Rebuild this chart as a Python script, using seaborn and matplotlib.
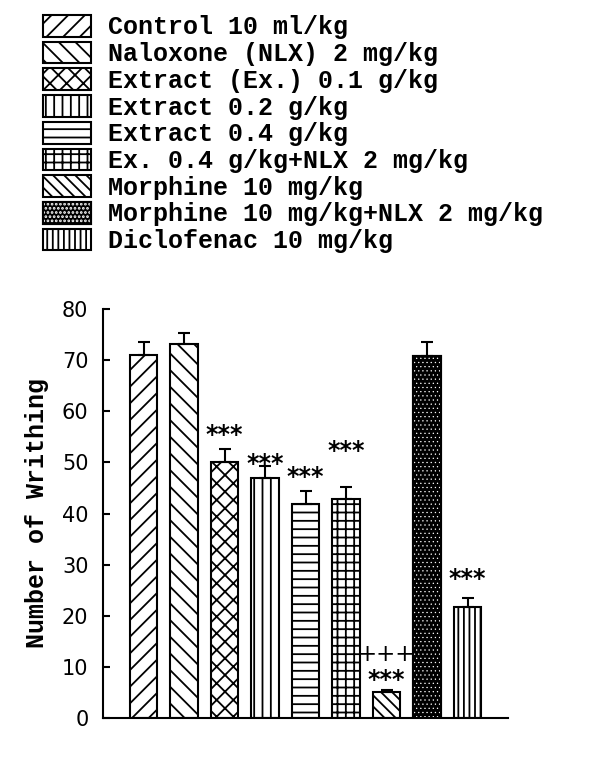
import matplotlib
matplotlib.use('Agg')
import matplotlib.pyplot as plt
import seaborn as sns
import pandas as pd
from matplotlib.patches import Patch
from matplotlib.legend_handler import HandlerTuple

# Daten
groups = ['Control 10 ml/kg', 'Naloxone (NLX) 2 mg/kg', 'Extract (Ex.) 0.1 g/kg',
          'Extract 0.2 g/kg', 'Extract 0.4 g/kg', 'Ex. 0.4 g/kg+NLX 2 mg/kg',
          'Morphine 10 mg/kg', 'Morphine 10 mg/kg+NLX 2 mg/kg', 'Diclofenac 10 mg/kg']
means = [71.1, 73.1, 50.0, 47.0, 41.9, 42.9, 5.0, 70.9, 21.7]
sems = [2.5, 2.3, 2.7, 2.3, 2.5, 2.2, 0.5, 2.6, 1.7]
stars = ['', '', '***', '***', '***', '***', '***', '', '***']
star_y = [0, 0, 56.8, 51.2, 48.6, 53.7, 8.8, 0, 28.7]
plus_label = '+++'
plus_y = 12.7
plus_idx = 6

hatches = ['//', '\\\\', 'xx', '||', '--', '++', '\\\\\\', '....', '|||']
dark_idx = 7

plt.rcParams['hatch.linewidth'] = 1.3
plt.rcParams['font.family'] = ['DejaVu Sans']

df = pd.DataFrame({'group': groups, 'mean': means})

fig = plt.figure(figsize=(6, 7.72), dpi=100)
ax = fig.add_axes([103 / 600, 1 - 718 / 772, 405 / 600, 409 / 772])

bw = 0.68
sns.barplot(data=df, x='group', y='mean', order=groups, color='white',
            edgecolor='black', linewidth=1.5, width=bw, ax=ax, saturation=1)

for i, p in enumerate(ax.patches[:len(groups)]):
    p.set_hatch(hatches[i])
    p.set_facecolor('white')
    if i == dark_idx:
        p.set_facecolor('black')
        p.set_hatch(None)


def thin_hatch(patch):
    if hasattr(patch, 'set_hatch_linewidth'):
        patch.set_hatch_linewidth(0.4)


# weisse Punkte auf schwarzem Balken
with plt.rc_context({'hatch.linewidth': 0.4}):
    dots = ax.bar(dark_idx, means[dark_idx], bw, facecolor='none', edgecolor='white',
                  hatch=hatches[dark_idx], linewidth=0, zorder=3)
for p in dots:
    thin_hatch(p)
ax.bar(dark_idx, means[dark_idx], bw, facecolor='none', edgecolor='black',
       linewidth=1.5, zorder=4)

xs = list(range(len(groups)))
ax.errorbar(xs, means, yerr=[[0] * len(sems), sems], fmt='none', ecolor='black',
            elinewidth=1.5, capsize=4, capthick=1.5, zorder=5)

for i, s in enumerate(stars):
    if s:
        ax.text(i, star_y[i] - 2.8, s, ha='center', va='baseline',
                fontsize=17, fontweight='bold', family='DejaVu Sans')
ax.text(plus_idx, plus_y - 1.6, plus_label, ha='center', va='baseline',
        fontsize=16.5, family='DejaVu Sans')

ax.set_xlim(-1, len(groups))
ax.set_ylim(0, 80)
ax.set_xticks([])
ax.set_xlabel('')
ax.set_yticks(range(0, 81, 10))
ax.tick_params(axis='y', direction='in', length=5, width=1.5, pad=10.5, labelsize=15)
for s in ['left', 'bottom']:
    ax.spines[s].set_linewidth(1.5)
sns.despine(ax=ax)

ax.set_ylabel('Number of Writhing', fontsize=18, family='Liberation Mono',
              fontweight='bold', va='center')
ax.yaxis.set_label_coords(-0.164, 0.5)

# Legende
with plt.rc_context({'hatch.linewidth': 0.4}):
    leg_dots = Patch(facecolor='none', edgecolor='white', hatch=hatches[dark_idx], lw=0)
thin_hatch(leg_dots)
handles = []
for i, h in enumerate(hatches):
    if i == dark_idx:
        handles.append((Patch(facecolor='black', edgecolor='black', lw=1.5),
                        leg_dots,
                        Patch(facecolor='none', edgecolor='black', lw=1.5)))
    else:
        handles.append(Patch(facecolor='white', edgecolor='black', hatch=h, lw=1.5))

fig.legend(handles, groups, loc='upper left', bbox_to_anchor=(43 / 600, 1 - 15 / 772),
           frameon=False, borderpad=0, borderaxespad=0, handlelength=1.92,
           handleheight=0.96, handletextpad=0.68, labelspacing=0.09,
           prop={'family': 'Liberation Mono', 'weight': 'bold', 'size': 18},
           handler_map={tuple: HandlerTuple(ndivide=1, pad=0)})

plt.savefig('out.png', dpi=100)
